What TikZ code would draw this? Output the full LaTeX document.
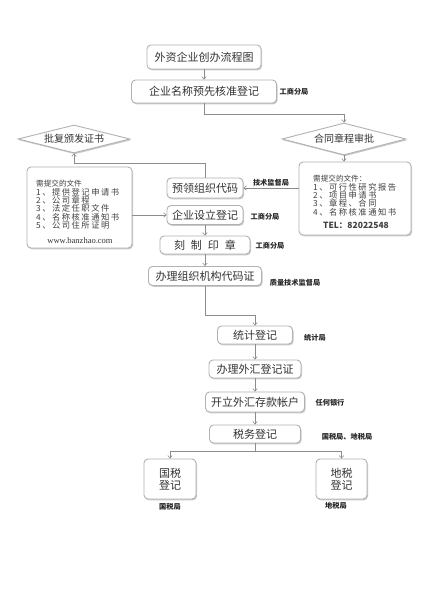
\documentclass[tikz,border=0pt]{standalone}
\usepackage{fontspec}
\setmainfont{Liberation Serif}
\newfontfamily\cjk{Noto Sans CJK SC}
\newfontfamily\cjksp[LetterSpace=18]{Noto Sans CJK SC}
\usetikzlibrary{shapes.geometric,arrows.meta,shadows}
\begin{document}
\begin{tikzpicture}[x=1pt,y=-1pt,
  shad/.style={drop shadow={shadow xshift=1pt,shadow yshift=-1.3pt,opacity=0.35,fill=black!60}},
  box/.style={draw=black!30, line width=0.9pt, fill=white, rounded corners=4pt, shad, inner sep=0pt,
    font=\cjk\fontsize{11}{12}\selectfont, text=black!80, align=center},
  dia/.style={diamond, draw=black!30, line width=0.9pt, fill=white, inner sep=0pt, shad,
    font=\cjk\fontsize{10}{12}\selectfont, text=black!80},
  lab/.style={font=\cjk\bfseries\fontsize{7.2}{8}\selectfont, text=black!85, inner sep=0pt},
  arr/.style={draw=black!45, line width=0.6pt, -{Straight Barb[length=2.5pt,width=4.5pt]}},
  ln/.style={draw=black!45, line width=0.6pt},
  doc/.style={font=\cjk\fontsize{8.3}{8.4}\selectfont, text=black!75, align=left, inner sep=0pt},
]
\fill[white] (0,0) rectangle (443,591);
\useasboundingbox (0,0) rectangle (443,591);

% main boxes
\node[box, minimum width=114pt, minimum height=24pt] (title) at (204,57) {外资企业创办流程图};
\node[box, minimum width=145pt, minimum height=23pt] (name) at (204,91.5) {企业名称预先核准登记};
\node[dia, aspect=3.9, minimum width=124pt, minimum height=32pt] (dR) at (344,139) {合同章程审批};
\node[dia, aspect=4, minimum width=112pt, minimum height=28pt] (dL) at (74,139) {批复颁发证书};

\node[box, minimum width=112pt, minimum height=73pt] (bR) at (355,198.5) {};
\node[doc, anchor=north west] (tR) at (313,175) {{\fontsize{7.6}{8.4}\selectfont 需提交的文件：}\\
 {\cjksp 1、可行性研究报告}\\
 {\cjksp 2、项目申请书}\\
 {\cjksp 3、章程、合同}\\
 {\cjksp 4、名称核准通知书}};
\node[font=\cjk\bfseries\fontsize{8.5}{9}\selectfont, text=black!75, inner sep=0pt] (tel) at (356,225) {TEL：82022548};

\node[box, minimum width=105pt, minimum height=81pt] (bL) at (79.5,207.5) {};
\node[doc, anchor=north west] (tL) at (36,180) {{\fontsize{7.6}{8.4}\selectfont 需提交的文件}\\
 {\cjksp 1、提供登记申请书}\\
 {\cjksp 2、公司章程}\\
 {\cjksp 3、法定任职文件}\\
 {\cjksp 4、名称核准通知书}\\
 {\cjksp 5、公司住所证明}};
\node[font=\fontsize{8.5}{9}\selectfont, text=black!80, inner sep=0pt] (www) at (80,241) {www.banzhao.com};

\node[box, minimum width=76pt, minimum height=20pt] (yuling) at (205,188) {预领组织代码};
\node[box, minimum width=76pt, minimum height=19pt] (sheli) at (205,215) {企业设立登记};
\node[box, minimum width=90pt, minimum height=18pt] (kezhi) at (205,245) {刻\hspace{6pt}制\hspace{6pt}印\hspace{6pt}章};
\node[box, minimum width=113pt, minimum height=19pt] (banli) at (205,276) {办理组织机构代码证};
\node[box, minimum width=75pt, minimum height=18pt] (tongji) at (255,335) {统计登记};
\node[box, minimum width=92pt, minimum height=18pt] (waihui) at (255,369) {办理外汇登记证};
\node[box, minimum width=99pt, minimum height=20pt] (kaili) at (255,402) {开立外汇存款帐户};
\node[box, minimum width=91pt, minimum height=18pt] (shuiwu) at (255,434) {税务登记};
\node[box, minimum width=52pt, minimum height=40pt] (guoshui) at (170,479) {国税\\登记};
\node[box, minimum width=51pt, minimum height=40pt] (dishui) at (341.5,479) {地税\\登记};

% labels
\node[lab] (l1) at (294,92) {工商分局};
\node[lab] (l2) at (271,183) {技术监督局};
\node[lab] (l3) at (265,217) {工商分局};
\node[lab] (l4) at (270,246) {工商分局};
\node[lab] (l5) at (295,283) {质量技术监督局};
\node[lab] (l6) at (315,338) {统计局};
\node[lab] (l7) at (330,403) {任何银行};
\node[lab] (l8) at (347,437) {国税局、地税局};
\node[lab] (l9) at (170,507) {国税局};
\node[lab] (l10) at (336,506) {地税局};

% connectors
\draw[arr] (title) -- (name);
\draw[arr] (name.south) -- ++(0,11) -| (dR.north);
\draw[arr] (dR.south) -- (dR.south |- bR.north);
\draw[arr] (bR.west |- yuling.east) -- (yuling.east);
\draw[arr] (yuling.north) -- ++(0,-14) -| (dL.south);
\draw[arr] (bL.east |- sheli.west) -- (sheli.west);
\draw[arr] (sheli) -- (kezhi);
\draw[arr] (kezhi) -- (banli);
\draw[arr] (banli.south) -- ++(0,29) -| (tongji.north);
\draw[arr] (tongji) -- (waihui);
\draw[arr] (waihui) -- (kaili);
\draw[arr] (kaili) -- (shuiwu);
\draw[ln] (shuiwu.south) -- ++(0,8) coordinate (split);
\draw[arr] (split) -| (guoshui.north);
\draw[arr] (split) -| (dishui.north);
\end{tikzpicture}
\end{document}
